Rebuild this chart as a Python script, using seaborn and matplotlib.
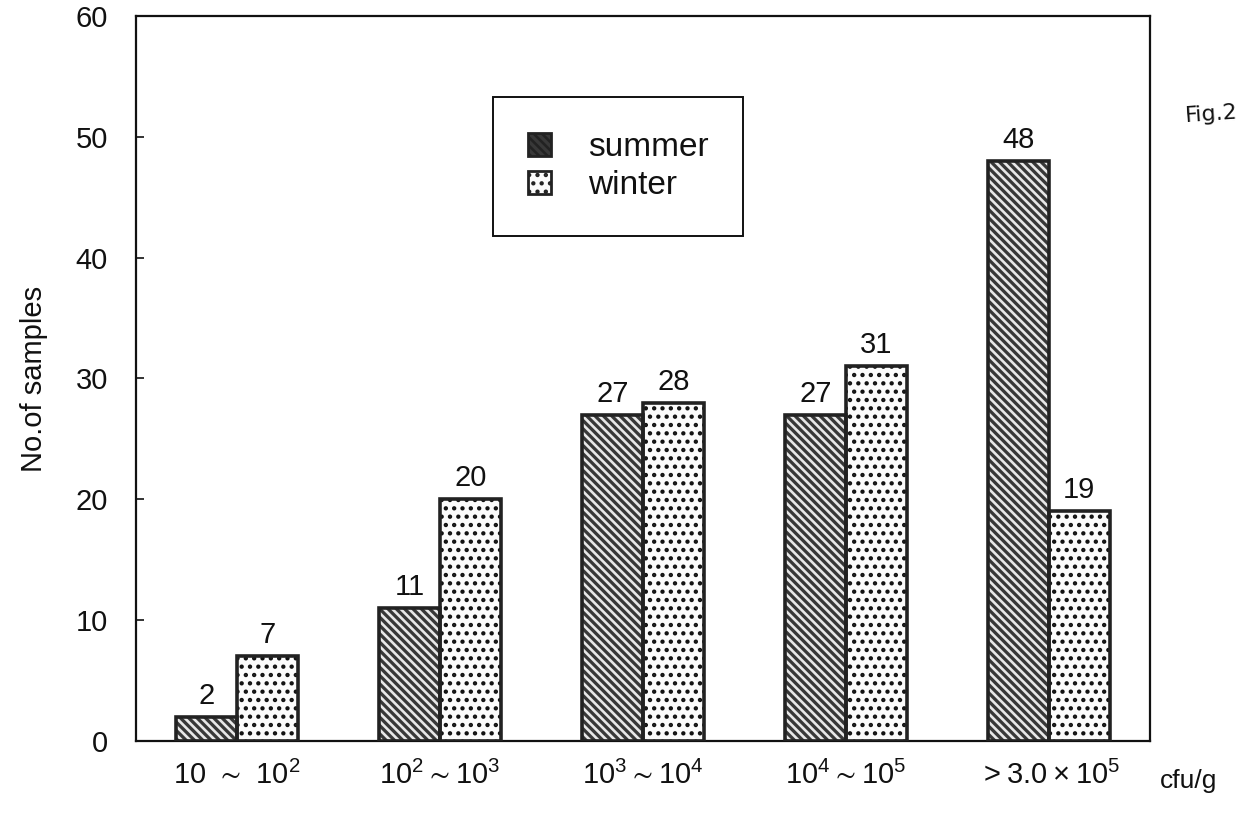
import matplotlib
matplotlib.use('Agg')
import matplotlib.pyplot as plt
import matplotlib.patches as mpatches
import pandas as pd
import seaborn as sns

# counts per cfu/g range
ranges = [r'$10\ \sim\ 10^{2}$', r'$10^{2}\sim10^{3}$', r'$10^{3}\sim10^{4}$',
          r'$10^{4}\sim10^{5}$', r'$>3.0\times10^{5}$']
summer = [2, 11, 27, 27, 48]
winter = [7, 20, 28, 31, 19]
seasons = ['summer', 'winter']

face = {'summer': '#383838', 'winter': '#fbfbfb'}
hatch = {'summer': '\\\\\\\\', 'winter': '..'}
hatch_col = {'summer': '#e8e8e8', 'winter': '#111111'}
edge = '#222222'

df = pd.DataFrame({'range': ranges * 2,
                   'count': summer + winter,
                   'season': ['summer'] * 5 + ['winter'] * 5})

sns.set_style('ticks')
plt.rcParams['font.family'] = ['Liberation Sans', 'DejaVu Sans']
plt.rcParams['mathtext.fontset'] = 'custom'
plt.rcParams['mathtext.rm'] = 'Liberation Sans'
plt.rcParams['mathtext.default'] = 'regular'
plt.rcParams['hatch.linewidth'] = 1.9
plt.rcParams['text.color'] = '#111111'
plt.rcParams['xtick.color'] = '#111111'
plt.rcParams['ytick.color'] = '#111111'
plt.rcParams['axes.labelcolor'] = '#111111'

fig = plt.figure(figsize=(12.45, 8.21), dpi=100)
ax = fig.add_axes([0.109, 0.0975, 0.815, 0.883])

sns.barplot(data=df, x='range', y='count', hue='season', palette=face,
            saturation=1, width=0.6, gap=0, legend=False, ax=ax, zorder=2)

for cont, s in zip(ax.containers, seasons):
    for bar in cont:
        bar.set_hatch(hatch[s])
        bar.set_edgecolor(hatch_col[s])
        bar.set_linewidth(0)
        # outline drawn on top so the hatch can keep its own colour
        ax.add_patch(mpatches.Rectangle(bar.get_xy(), bar.get_width(), bar.get_height(),
                                        fill=False, edgecolor=edge, lw=2.6, zorder=3))
    ax.bar_label(cont, fontsize=21, padding=5)

ax.set_ylim(0, 60)
ax.set_xlim(-0.5, 4.5)
ax.set_yticks(range(0, 61, 10))
ax.tick_params(axis='y', direction='in', length=6, width=1.2, labelsize=21, pad=20)
ax.tick_params(axis='x', length=0, labelsize=21, pad=14)
for sp in ax.spines.values():
    sp.set_visible(True)
    sp.set_linewidth(1.6)
    sp.set_color('#111111')
ax.set_xlabel('')
ax.set_ylabel('No.of samples', fontsize=21, labelpad=20)

handles = [mpatches.Patch(facecolor=face[s], hatch=hatch[s], edgecolor=hatch_col[s], lw=0)
           for s in seasons]
leg = ax.legend(handles, seasons, loc='upper left', bbox_to_anchor=(0.352, 0.888),
                fontsize=24, frameon=True, fancybox=False, framealpha=1,
                handlelength=0.7, handleheight=0.7, handletextpad=1.1,
                borderpad=1.05, borderaxespad=0, labelspacing=0.2)
leg.get_frame().set_edgecolor('#111111')
leg.get_frame().set_linewidth(1.4)
for h in leg.legend_handles:
    h.set_edgecolor(edge)
    h.set_linewidth(2.0)

fig.text(0.932, 0.04, 'cfu/g', fontsize=19)
fig.text(0.951, 0.852, 'Fig.2', fontsize=16, family='DejaVu Sans', rotation=4)

fig.savefig('out.png', dpi=100)
